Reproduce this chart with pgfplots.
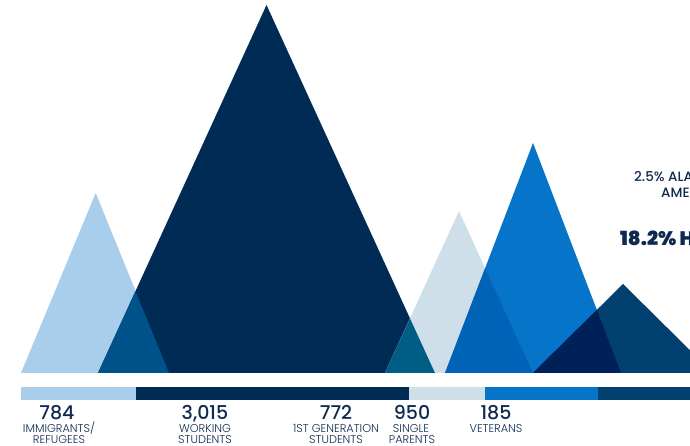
\documentclass[border=0pt]{standalone}
\usepackage{pgfplots}
\pgfplotsset{compat=1.18}
\usepackage{fontspec}
\setmainfont{Poppins}
\IfFontExistsTF{Poppins Medium}{\newfontfamily\numfont{Poppins Medium}}{\newfontfamily\numfont{Poppins}[FakeBold=1.6]}
\IfFontExistsTF{Poppins Light}{\newfontfamily\lightfont{Poppins Light}}{\newfontfamily\lightfont{Poppins}}
\IfFontExistsTF{Poppins Black}{\newfontfamily\heavyfont{Poppins Black}}{\newfontfamily\heavyfont{Poppins}[UprightFont=*-Bold]}

\definecolor{imm}{HTML}{A8CEEB}
\definecolor{work}{HTML}{002B55}
\definecolor{immwork}{HTML}{00538A}
\definecolor{gen}{HTML}{CFDFEA}
\definecolor{workgen}{HTML}{005E86}
\definecolor{single}{HTML}{0675C9}
\definecolor{gensingle}{HTML}{0063B8}
\definecolor{vet}{HTML}{024070}
\definecolor{singlevet}{HTML}{002058}
\definecolor{txt}{HTML}{0E2A4E}

\begin{document}
\begin{tikzpicture}
\begin{axis}[
    name=ax,
    scale only axis,
    width=690pt, height=446pt,
    xmin=0, xmax=690,
    ymin=-73, ymax=373,
    hide axis,
    clip=true,
]
% mountains
\addplot[fill=imm, draw=none] coordinates {(21,0) (95.7,180) (169,0)} -- cycle;
\addplot[fill=work, draw=none] coordinates {(98,0) (266.5,368) (435,0)} -- cycle;
\addplot[fill=gen, draw=none] coordinates {(385,0) (459,162) (533,0)} -- cycle;
\addplot[fill=single, draw=none] coordinates {(445,0) (533,230) (621,0)} -- cycle;
\addplot[fill=vet, draw=none] coordinates {(533,0) (623,89) (713,0)} -- cycle;
% overlaps
\addplot[fill=immwork, draw=none] coordinates {(98,0) (135.5,81.6) (169,0)} -- cycle;
\addplot[fill=workgen, draw=none] coordinates {(385,0) (410,54.5) (435,0)} -- cycle;
\addplot[fill=gensingle, draw=none] coordinates {(445,0) (485.1,104.5) (533,0)} -- cycle;
\addplot[fill=singlevet, draw=none] coordinates {(533,0) (596.8,63.1) (621,0)} -- cycle;
% bar
\addplot[fill=imm, draw=none] coordinates {(21,-14) (135.5,-14) (135.5,-27) (21,-27)} -- cycle;
\addplot[fill=work, draw=none] coordinates {(135.5,-14) (408.5,-14) (408.5,-27) (135.5,-27)} -- cycle;
\addplot[fill=gen, draw=none] coordinates {(408.5,-14) (485,-14) (485,-27) (408.5,-27)} -- cycle;
\addplot[fill=single, draw=none] coordinates {(485,-14) (597.5,-14) (597.5,-27) (485,-27)} -- cycle;
\addplot[fill=vet, draw=none] coordinates {(597.5,-14) (700,-14) (700,-27) (597.5,-27)} -- cycle;
\end{axis}

\begin{scope}[shift={(ax.south west)}, x=1pt, y=1pt, text=txt]
\foreach \x/\n in {57/784, 205/{3,015}, 336/772, 412/950, 496/185}
  \node[anchor=base, inner sep=0pt, font=\numfont\fontsize{19}{20}\selectfont] at (\x,26) {\n};
\foreach \x/\l in {59/{IMMIGRANTS/}, 205/WORKING, 336/{1ST GENERATION}, 411/SINGLE, 496/VETERANS}
  \node[anchor=base, inner sep=0pt, font=\lightfont\fontsize{11.3}{12}\selectfont] at (\x,13.5) {\l};
\foreach \x/\l in {59/REFUGEES, 205/STUDENTS, 336/STUDENTS, 412/PARENTS}
  \node[anchor=base, inner sep=0pt, font=\lightfont\fontsize{11.3}{12}\selectfont] at (\x,2.5) {\l};
\node[anchor=base west, inner sep=0pt, font=\numfont\fontsize{13.5}{14}\selectfont] at (634,264) {2.5\% ALASKA NATIVE/};
\node[anchor=base west, inner sep=0pt, font=\numfont\fontsize{13.5}{14}\selectfont] at (661,248) {AMERICAN INDIAN};
\node[anchor=base west, inner sep=0pt, font=\heavyfont\fontsize{19.5}{21}\selectfont] at (620,200) {18.2\% HISPANIC};
\end{scope}
\pgfresetboundingbox
\useasboundingbox (ax.south west) rectangle (ax.north east);
\end{tikzpicture}
\end{document}
